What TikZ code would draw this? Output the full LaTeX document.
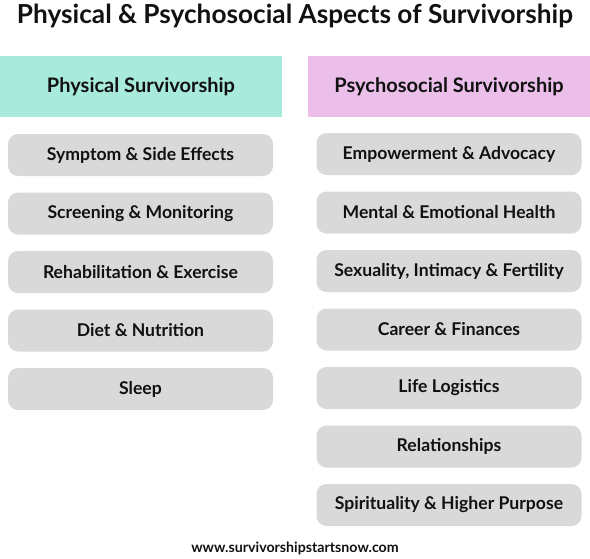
\documentclass[tikz,border=0pt]{standalone}
\usepackage{fontspec}
\setmainfont{Lato}[UprightFont=* Bold]
\definecolor{teal}{HTML}{A8EADB}
\definecolor{pinkh}{HTML}{EBBFEA}
\definecolor{pill}{HTML}{D9D9D9}
\definecolor{ink}{HTML}{111111}
\begin{document}
\begin{tikzpicture}[x=1pt,y=-1pt,
  hdr/.style={fill=#1,draw=none,minimum width=282pt,minimum height=61pt,inner sep=0pt,text=ink,font=\fontsize{20}{24}\selectfont},
  item/.style={fill=pill,draw=none,rounded corners=10pt,minimum width=265pt,minimum height=42pt,inner sep=0pt,text=ink,font=\fontsize{17.6}{21}\selectfont}]
\useasboundingbox (0,0) rectangle (590,558);
\node[text=ink,font=\fontsize{26.2}{30}\selectfont] (title) at (295,16) {Physical \& Psychosocial Aspects of Survivorship};
\node[hdr=teal] (phys) at (141,86.5) {Physical Survivorship};
\node[hdr=pinkh] (psych) at (449,86.5) {Psychosocial Survivorship};
\node[item] (p1) at (140.5,155) {Symptom \& Side Effects};
\node[item] (p2) at (140.5,213.5) {Screening \& Monitoring};
\node[item] (p3) at (140.5,272) {Rehabilitation \& Exercise};
\node[item] (p4) at (140.5,330.5) {Diet \& Nutrition};
\node[item] (p5) at (140.5,389) {Sleep};
\node[item] (s1) at (449,154) {Empowerment \& Advocacy};
\node[item] (s2) at (449,212.5) {Mental \& Emotional Health};
\node[item] (s3) at (449,271) {Sexuality, Intimacy \& Fertility};
\node[item] (s4) at (449,329.5) {Career \& Finances};
\node[item] (s5) at (449,388) {Life Logistics};
\node[item] (s6) at (449,446.5) {Relationships};
\node[item] (s7) at (449,505) {Spirituality \& Higher Purpose};
\node[text=ink,font=\fontsize{14.2}{17}\selectfont] (url) at (295,548) {www.survivorshipstartsnow.com};
\end{tikzpicture}
\end{document}
